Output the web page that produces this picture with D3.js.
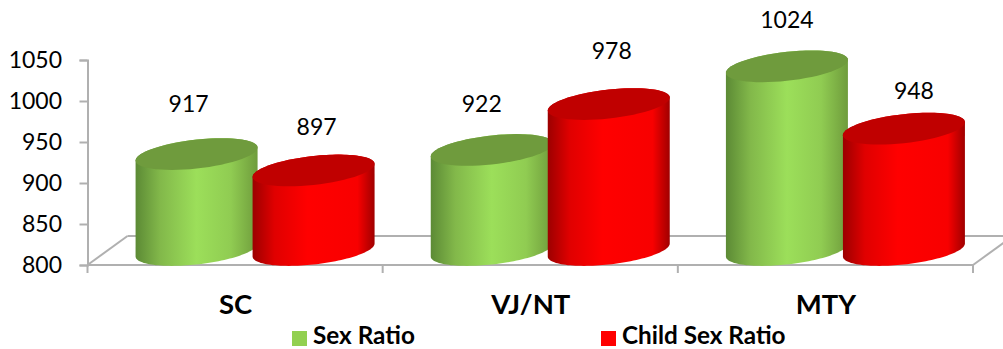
<!DOCTYPE html>
<html>
<head>
<meta charset="utf-8">
<script src="https://cdn.jsdelivr.net/npm/d3@7"></script>
<style>
  html, body { margin: 0; padding: 0; background: #fff; }
  svg { display: block; }
  text { font-family: Lato, "Open Sans", sans-serif; fill: #000; }
</style>
</head>
<body>
<svg id="chart" width="1003" height="349"></svg>
<script>
const categories = ["SC", "VJ/NT", "MTY"];
const seriesNames = ["Sex Ratio", "Child Sex Ratio"];
const sexRatio = [917, 922, 1024];
const childSexRatio = [897, 978, 948];
const yTicks = [800, 850, 900, 950, 1000, 1050];

// Hand-placed value labels, as pixel shifts from the top of each cylinder
const sexRatioLabelShift = [[-8, -50], [-10, -46], [0, -46]];
const childLabelShift = [[3, -44], [3, -53], [10, -38]];

const width = 1003, height = 349;
const plot = { left: 87.5, right: 973, top: 60, bottom: 265 };
const depth = { x: 20, y: -15 };       // offset of the cylinder axis from the front of the floor
const floorDepth = { x: 40, y: -29 };
const cyl = { rx: 61, ry: 14.5, tilt: 6.5, gap: 117 };
const axisColor = "#b0b0b0";

const svg = d3.select("#chart");
const x = d3.scaleBand().domain(categories).range([plot.left, plot.right]);
const y = d3.scaleLinear().domain([800, 1050]).range([plot.bottom, plot.top]);
const seriesX = d3.scaleBand().domain(seriesNames)
  .range([-cyl.gap, cyl.gap]);

// Shading across the round side of each cylinder
const defs = svg.append("defs");
function sideGradient(id, stops) {
  const g = defs.append("linearGradient").attr("id", id)
    .attr("x1", 0).attr("x2", 1).attr("y1", 0).attr("y2", 0);
  stops.forEach(([o, c]) => g.append("stop").attr("offset", o).attr("stop-color", c));
}
sideGradient("side-green", [[0, "#5c8a35"], [0.2, "#82b84a"], [0.5, "#9cdf5a"], [0.78, "#90cc52"], [1, "#6f9c3c"]]);
sideGradient("side-red", [[0, "#9c0000"], [0.18, "#e00000"], [0.45, "#ff0000"], [0.86, "#f80000"], [1, "#a00000"]]);

const palette = [
  { side: "url(#side-green)", top: "#6f9b3d", swatch: "#92d050" },
  { side: "url(#side-red)", top: "#c00000", swatch: "#ff0000" }
];

// Floor of the 3D plot, drawn behind the cylinders
const floor = svg.append("g").attr("fill", "none").attr("stroke", axisColor).attr("stroke-width", 2);
const backY = plot.bottom + floorDepth.y;
floor.append("line").attr("x1", plot.left + floorDepth.x).attr("x2", width)
  .attr("y1", backY).attr("y2", backY);
floor.append("line").attr("x1", plot.left).attr("y1", plot.bottom)
  .attr("x2", plot.left + floorDepth.x).attr("y2", backY);
floor.append("line").attr("x1", plot.right).attr("y1", plot.bottom)
  .attr("x2", plot.right + floorDepth.x).attr("y2", backY);

// Value axis
const yAxis = svg.append("g").attr("transform", `translate(${plot.left},0)`)
  .call(d3.axisLeft(y).tickValues(yTicks).tickSize(8).tickPadding(17.5).tickFormat(d3.format("d")));
yAxis.selectAll("path, line").attr("stroke", axisColor).attr("stroke-width", 2);
yAxis.selectAll("text").attr("font-size", 23).style("font-family", "Lato");

// Category axis: labels sit mid-band, tick marks on the band edges
const xAxis = svg.append("g").attr("transform", `translate(0,${plot.bottom})`)
  .call(d3.axisBottom(d3.scalePoint().domain(categories)
      .range([x(categories[0]) + x.bandwidth() / 2, x(categories[2]) + x.bandwidth() / 2]))
    .tickSize(0).tickPadding(29));
xAxis.select("path").remove();
xAxis.selectAll("text").attr("font-size", 27.5).attr("font-weight", 700).style("font-family", "Lato");
svg.append("line").attr("x1", plot.left).attr("x2", plot.right)
  .attr("y1", plot.bottom).attr("y2", plot.bottom)
  .attr("stroke", axisColor).attr("stroke-width", 2);
svg.append("g").selectAll("line")
  .data(categories.map(c => x(c)).concat(plot.right))
  .join("line")
  .attr("x1", d => d).attr("x2", d => d)
  .attr("y1", plot.bottom).attr("y2", plot.bottom + 8)
  .attr("stroke", axisColor).attr("stroke-width", 2);

// A point on the tilted ellipse around (cx, cy)
const ellipsePoint = (cx, cy, t) => [
  cx + cyl.rx * Math.cos(t),
  cy + cyl.ry * Math.sin(t) - cyl.tilt * Math.cos(t)
];
const lineGen = d3.line();
const angles = (from, to) => d3.range(0, 61).map(i => from + (to - from) * i / 60);

function drawCylinder(g, cx, value, s) {
  const baseY = y(800) + depth.y, topY = y(value) + depth.y;
  // The tilted ellipse reaches its widest points at t = 0 and t = PI
  const lowerArc = angles(Math.PI, 0).map(t => ellipsePoint(cx, baseY, t));
  const upperArc = angles(0, Math.PI).map(t => ellipsePoint(cx, topY, -t));
  g.append("path").attr("d", lineGen(lowerArc.concat(upperArc)) + "Z")
    .attr("fill", palette[s].side);
  g.append("path").attr("d", lineGen(angles(0, 2 * Math.PI).map(t => ellipsePoint(cx, topY, t))) + "Z")
    .attr("fill", palette[s].top);
}

const columns = [sexRatio, childSexRatio];
const shifts = [sexRatioLabelShift, childLabelShift];
const marks = svg.append("g");
const labels = svg.append("g").attr("font-size", 23).attr("text-anchor", "middle");

categories.forEach((cat, i) => {
  const centre = x(cat) + x.bandwidth() / 2 + depth.x;
  columns.forEach((col, s) => {
    const cx = centre + seriesX(seriesNames[s]) + seriesX.bandwidth() / 2;
    drawCylinder(marks, cx, col[i], s);
    labels.append("text")
      .attr("x", cx + shifts[s][i][0])
      .attr("y", y(col[i]) + depth.y + shifts[s][i][1])
      .attr("dy", "0.35em")
      .text(col[i]);
  });
});

// Legend, with its text baseline kept far enough up for the descent to fit the canvas
const legendX = [292, 601];
const legendFont = 24.3;
const legend = svg.append("g");
seriesNames.forEach((name, s) => {
  legend.append("rect").attr("x", legendX[s]).attr("y", 331)
    .attr("width", 15).attr("height", 15).attr("fill", palette[s].swatch);
  legend.append("text").attr("x", legendX[s] + 21).attr("y", height - legendFont * 0.22)
    .attr("font-size", legendFont).attr("font-weight", 700)
    .text(name);
});
</script>
</body>
</html>
